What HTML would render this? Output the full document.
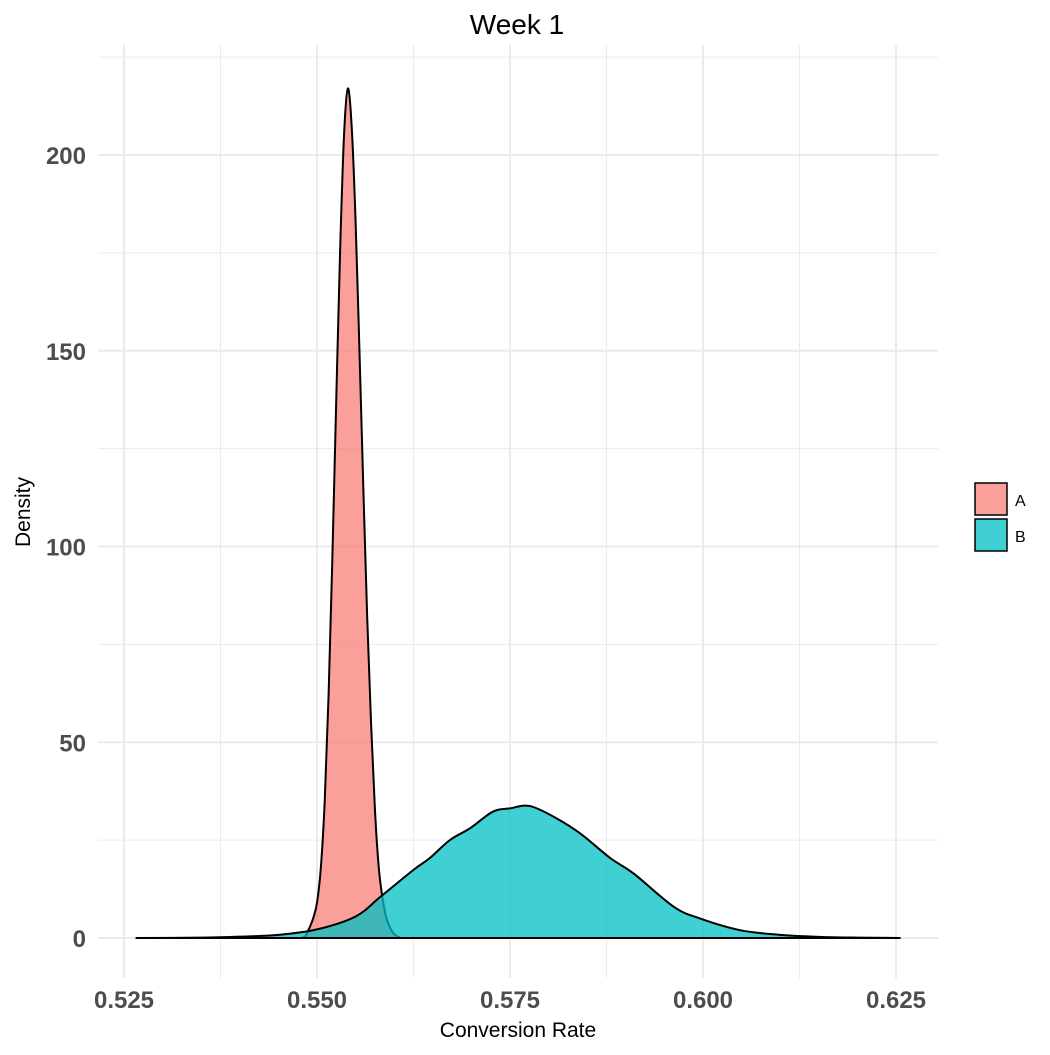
<!DOCTYPE html>
<html><head><meta charset="utf-8"><style>
body{margin:0;background:#fff;}
svg text{font-family:"Liberation Sans",sans-serif;}
</style></head><body>
<svg id="chart" width="1050" height="1050" xmlns="http://www.w3.org/2000/svg">
<g id="grid"></g>
<g id="marks"></g>
<g id="axes"></g>
<text x="517" y="34" font-size="28" text-anchor="middle" fill="#000">Week 1</text>
<text x="518" y="1037" font-size="21" text-anchor="middle" fill="#000">Conversion Rate</text>
<text transform="translate(30,512) rotate(-90)" font-size="21" text-anchor="middle" fill="#000">Density</text>
<g>
<rect x="975" y="483" width="32" height="32" fill="#F8766D" fill-opacity="0.7" stroke="#000" stroke-width="1.5"/>
<text x="1015" y="506" font-size="16">A</text>
<rect x="975" y="519" width="32" height="32" fill="#00BFC4" fill-opacity="0.75" stroke="#000" stroke-width="1.5"/>
<text x="1015" y="542" font-size="16">B</text>
</g>
</svg>
<script>
const xTicks=[0.525,0.550,0.575,0.600,0.625];
const xTickLabels=["0.525","0.550","0.575","0.600","0.625"];
const yTicks=[0,50,100,150,200];
const yTickLabels=["0","50","100","150","200"];
const aX=[0.5480,0.5485,0.5490,0.5495,0.5500,0.5505,0.5510,0.5515,0.5520,0.5525,0.5530,0.5535,0.5540,0.5545,0.5550,0.5555,0.5560,0.5565,0.5570,0.5575,0.5580,0.5585,0.5590,0.5595,0.5600,0.5608];
const aY=[0,0.5,2.5,5,9,18,35,62,98,138,176,205,217,207,183,150,115,82,55,33,18,10,5,2.5,1,0];
const bX=[0.5266,0.535,0.540,0.545,0.550,0.555,0.5582,0.5625,0.5646,0.5672,0.5698,0.5728,0.5750,0.5776,0.5810,0.5841,0.5880,0.5910,0.5962,0.5996,0.6048,0.610,0.615,0.620,0.6255];
const bY=[0,0.1,0.35,0.8,2.2,5.5,10.5,17.4,20.4,25,28,32.3,33.1,33.7,30.6,26.7,20.4,16.5,8,5,2,0.8,0.3,0.1,0];
const X=v=>124+(v-0.525)/0.1*772;
const Y=v=>938-v/50*195.75;
const ns="http://www.w3.org/2000/svg";
const grid=document.getElementById('grid'),axes=document.getElementById('axes'),marks=document.getElementById('marks');
function line(x1,y1,x2,y2,w,name){const l=document.createElementNS(ns,'line');
l.setAttribute('x1',x1);l.setAttribute('y1',y1);l.setAttribute('x2',x2);l.setAttribute('y2',y2);
l.setAttribute('stroke','#ebebeb');l.setAttribute('stroke-width',w);


grid.appendChild(l);}
for(let i=0;i<xTicks.length;i++){line(X(xTicks[i]),45,X(xTicks[i]),978,2,'x-gridline');
if(i<xTicks.length-1){const m=(xTicks[i]+xTicks[i+1])/2;line(X(m),45,X(m),978,1,'x-minor-gridline');}}
for(let i=0;i<yTicks.length;i++){line(98,Y(yTicks[i]),938,Y(yTicks[i]),2,'y-gridline');
const m=yTicks[i]+25;line(98,Y(m),938,Y(m),1,'y-minor-gridline');}
function txt(x,y,s,anchor,name){const t=document.createElementNS(ns,'text');
t.setAttribute('x',x);t.setAttribute('y',y);t.setAttribute('text-anchor',anchor);
t.setAttribute('font-size','24');t.setAttribute('font-weight','bold');t.setAttribute('fill','#4d4d4d');
t.textContent=s;


axes.appendChild(t);}
xTicks.forEach((v,i)=>txt(X(v),1008,xTickLabels[i],'middle','x-tick-label'));
yTicks.forEach((v,i)=>txt(86,Y(v)+9,yTickLabels[i],'end','y-tick-label'));
function smooth(xs,ys){const p=xs.map((x,i)=>[X(x),Y(ys[i])]);let d='M'+p[0][0]+','+p[0][1];
for(let i=0;i<p.length-1;i++){const p0=p[Math.max(0,i-1)],p1=p[i],p2=p[i+1],p3=p[Math.min(p.length-1,i+2)];
let c1y=p1[1]+(p2[1]-p0[1])/6,c2y=p2[1]-(p3[1]-p1[1])/6;c1y=Math.min(c1y,938);c2y=Math.min(c2y,938);
d+=' C'+(p1[0]+(p2[0]-p0[0])/6)+','+c1y+' '+(p2[0]-(p3[0]-p1[0])/6)+','+c2y+' '+p2[0]+','+p2[1];}
return d;}
function area(xs,ys,fill,op,name){const a=document.createElementNS(ns,'path');
a.setAttribute('d',smooth(xs,ys)+' Z');a.setAttribute('fill',fill);a.setAttribute('fill-opacity',op);
a.setAttribute('stroke','#000');a.setAttribute('stroke-width','2');a.setAttribute('stroke-linejoin','round');


marks.appendChild(a);}
area(aX,aY,'#F8766D',0.7,'density-area-a');
area(bX,bY,'#00BFC4',0.75,'density-area-b');
</script>
</body></html>
